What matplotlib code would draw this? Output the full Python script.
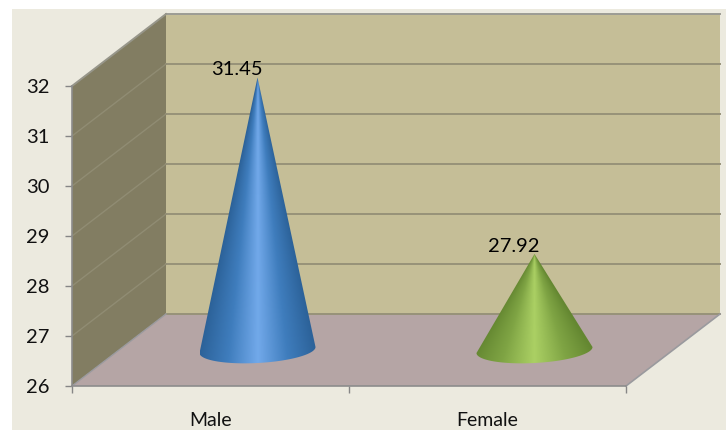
import numpy as np
import matplotlib
matplotlib.use("Agg")
import matplotlib.pyplot as plt
from matplotlib.colors import LinearSegmentedColormap
from matplotlib.patches import Polygon, Rectangle

categories = ["Male", "Female"]
values = [31.45, 27.92]
y_ticks = [26, 27, 28, 29, 30, 31, 32]
cone_colors = [
    ["#2C6299", "#3F7DBD", "#72A9EA", "#3F7DBD", "#2C6299"],
    ["#648731", "#7FA444", "#ABD064", "#7FA444", "#648731"],
]

W, H = 726, 430
# depth of the fake 3D box, in data units
DX = 94 / 277
DY = 1.44
# cone base ellipse
BASE_A = 58 / 277
BASE_B = 0.26
BASE_TILT = 0.06

plt.rcParams["font.family"] = ["Lato", "DejaVu Sans"]

fig = plt.figure(figsize=(W / 100, H / 100), dpi=100, facecolor="white")
fig.patches.append(Rectangle((12 / W, 0), 1 - 12 / W, 1 - 9 / H, transform=fig.transFigure,
                             facecolor="#ECEADF", edgecolor="none", zorder=-5))
ax = fig.add_axes([72 / W, 1 - 386 / H, 554 / W, 300 / H])
ax.patch.set_visible(False)

x0, x1 = 0, len(categories)
y0, y1 = y_ticks[0], y_ticks[-1]

# box faces
back = Polygon([(x0 + DX, y0 + DY), (x1 + DX, y0 + DY), (x1 + DX, y1 + DY), (x0 + DX, y1 + DY)],
               facecolor="#C5BE97", edgecolor="none", zorder=1, clip_on=False)
side = Polygon([(x0, y0), (x0 + DX, y0 + DY), (x0 + DX, y1 + DY), (x0, y1)],
               facecolor="#827D62", edgecolor="none", zorder=1, clip_on=False)
floor = Polygon([(x0, y0), (x1, y0), (x1 + DX, y0 + DY), (x0 + DX, y0 + DY)],
                facecolor="#B5A5A5", edgecolor="none", zorder=1, clip_on=False)
for p in (back, side, floor):
    ax.add_patch(p)

# gridlines on back wall and side wall
for v in y_ticks:
    color = "#9C9C94" if v == y1 else "#979279"
    ax.plot([x0 + DX, x1 + DX], [v + DY, v + DY], color=color, lw=1.4, zorder=2, clip_on=False)
    if v not in (y0, y1):
        ax.plot([x0, x0 + DX], [v, v + DY], color="#908C73", lw=1.0, zorder=2, clip_on=False)
ax.plot([x0, x0 + DX], [y1, y1 + DY], color="#97968A", lw=1.4, zorder=2, clip_on=False)
ax.plot([x1, x1 + DX], [y0, y0 + DY], color="#9A9A9E", lw=1.2, zorder=2, clip_on=False)
ax.plot([x0, x0 + DX], [y0, y0 + DY], color="#9A9A9E", lw=1.0, zorder=2, clip_on=False)


def draw_cone(i, value, colors):
    cx = i + 0.5 + DX / 2
    base = y0 + DY / 2
    # the cone stands at mid depth, so its tip is raised by the same half depth
    tip = value + DY / 2
    t = np.linspace(0, np.pi, 80)
    arc_x = cx + BASE_A * np.cos(t)
    arc_y = base - BASE_B * np.sin(t) + BASE_TILT * np.cos(t)
    outline = np.vstack([[cx, tip], np.column_stack([arc_x, arc_y])])
    clip = Polygon(outline, closed=True, transform=ax.transData)

    # shading follows the cone's surface, so the bands narrow towards the tip
    xs = np.linspace(cx - BASE_A, cx + BASE_A, 300)
    ys = np.linspace(base - BASE_B - 0.05, tip, 500)
    gx, gy = np.meshgrid(xs, ys)
    half = BASE_A * np.clip((tip - gy) / (tip - base), 0.002, None)
    u = np.clip((gx - cx) / half, -1, 1)
    cmap = LinearSegmentedColormap.from_list("cone", colors)
    im = ax.imshow(u, extent=[xs[0], xs[-1], ys[0], ys[-1]], origin="lower", cmap=cmap,
                   vmin=-1, vmax=1, aspect="auto", zorder=3, interpolation="bilinear")
    im.set_clip_box(fig.bbox)
    im.set_clip_path(clip)
    ax.annotate(f"{value:.2f}", xy=(cx, tip), xytext=(-21, 8), textcoords="offset pixels",
                ha="center", va="center", color="black", fontsize=14.5, zorder=4,
                annotation_clip=False)


for i, (val, cols) in enumerate(zip(values, cone_colors)):
    draw_cone(i, val, cols)

ax.set_xlim(x0, x1)
ax.set_ylim(y0, y1)

ax.set_yticks(y_ticks)
ax.set_xticks(range(x0, x1 + 1))
ax.set_xticklabels([])
ax.set_xticks([i + 0.5 for i in range(len(categories))], minor=True)
ax.set_xticklabels(categories, minor=True)
ax.tick_params(axis="x", which="minor", length=0, pad=19, labelsize=14, labelcolor="#111111")
ax.tick_params(axis="x", which="major", length=5, width=1, color="#868686", direction="out")
ax.tick_params(axis="y", length=5, width=1, color="#868686", pad=11, labelsize=14.5, labelcolor="#111111")

for s in ("top", "right"):
    ax.spines[s].set_visible(False)
for s in ("left", "bottom"):
    ax.spines[s].set_color("#8C8C8C")
    ax.spines[s].set_linewidth(1.2)
    ax.spines[s].set_zorder(2.5)

fig.savefig("out.png", dpi=100, facecolor=fig.get_facecolor())
